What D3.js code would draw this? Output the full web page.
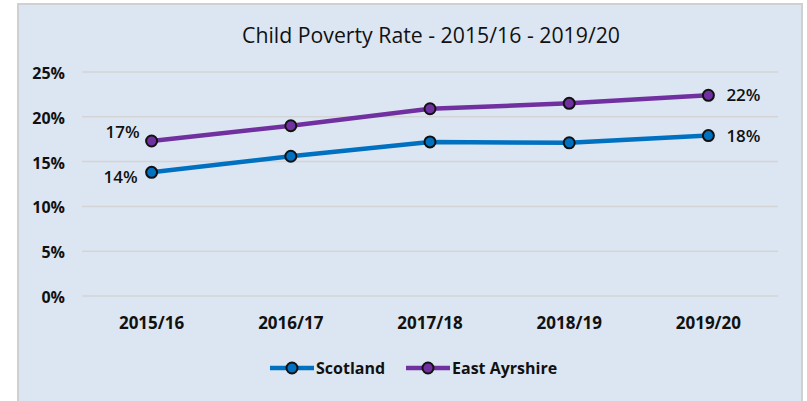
<!DOCTYPE html>
<html>
<head>
<meta charset="utf-8">
<script src="https://cdn.jsdelivr.net/npm/d3@7"></script>
<style>
  body { margin: 0; background: #fff; }
  text { font-family: "Open Sans", "DejaVu Sans", sans-serif; fill: #111; }
</style>
</head>
<body>
<div id="chart"></div>
<script>
// Child poverty data
const years = ["2015/16", "2016/17", "2017/18", "2018/19", "2019/20"];
const scotland = [13.8, 15.6, 17.2, 17.1, 17.9];
const eastAyrshire = [17.3, 19.0, 20.9, 21.5, 22.4];
const yTicks = [0, 5, 10, 15, 20, 25];

const width = 807;
const height = 401;
const margin = { left: 82, right: 29, top: 72, bottom: 105 };

const series = [
  { name: "Scotland", values: scotland, color: "#0070c0", labels: ["14%", null, null, null, "18%"], dx0: -14, dy0: 11 },
  { name: "East Ayrshire", values: eastAyrshire, color: "#7030a0", labels: ["17%", null, null, null, "22%"], dx0: -12, dy0: -3 }
];

const svg = d3.select("#chart").append("svg")
  .attr("width", width)
  .attr("height", height);

// panel background
svg.append("rect")
  .attr("x", 18).attr("y", 4)
  .attr("width", 784).attr("height", 410)
  .attr("fill", "#dce6f2")
  .attr("stroke", "#d0d0d0")
  .attr("stroke-width", 2);

svg.append("text")
  .attr("x", 431).attr("y", 43)
  .attr("text-anchor", "middle")
  .attr("font-size", 21)
  .attr("textLength", 378)
  .attr("lengthAdjust", "spacingAndGlyphs")
  .text("Child Poverty Rate - 2015/16 - 2019/20");

const x = d3.scalePoint()
  .domain(years)
  .range([margin.left, width - margin.right])
  .padding(0.5);

const y = d3.scaleLinear()
  .domain([0, 25])
  .range([height - margin.bottom, margin.top]);

// gridlines
svg.append("g").selectAll("line")
  .data(yTicks)
  .enter().append("line")
  .attr("x1", margin.left)
  .attr("x2", width - margin.right)
  .attr("y1", d => y(d))
  .attr("y2", d => y(d))
  .attr("stroke", "#d4d4d4")
  .attr("stroke-width", 1.5);

// y labels
svg.append("g").selectAll("text")
  .data(yTicks)
  .enter().append("text")
  .attr("x", 65)
  .attr("y", d => y(d) + 7)
  .attr("text-anchor", "end")
  .attr("font-size", 16)
  .attr("font-weight", "bold")
  .text(d => d + "%");

// x labels
svg.append("g").selectAll("text")
  .data(years)
  .enter().append("text")
  .attr("x", d => x(d))
  .attr("y", 329)
  .attr("text-anchor", "middle")
  .attr("font-size", 17)
  .attr("font-weight", "bold")
  .text(d => d);

const line = d3.line()
  .x((d, i) => x(years[i]))
  .y(d => y(d));

series.forEach(s => {
  svg.append("path")
    .datum(s.values)
    .attr("d", line)
    .attr("fill", "none")
    .attr("stroke", s.color)
    .attr("stroke-width", 4.5);

  svg.append("g").selectAll("circle")
    .data(s.values)
    .enter().append("circle")
    .attr("cx", (d, i) => x(years[i]))
    .attr("cy", d => y(d))
    .attr("r", 5.5)
    .attr("fill", s.color)
    .attr("stroke", "#111")
    .attr("stroke-width", 2);

  svg.append("g").selectAll("text")
    .data(s.values.map((v, i) => ({ v, i, label: s.labels[i] })).filter(d => d.label))
    .enter().append("text")
    .attr("x", d => d.i === 0 ? x(years[0]) + s.dx0 : x(years[d.i]) + 18)
    .attr("y", d => d.i === 0 ? y(d.v) + s.dy0 : y(d.v) + 6)
    .attr("text-anchor", d => d.i === 0 ? "end" : "start")
    .attr("font-size", 17)
    .attr("font-weight", 600)
    .text(d => d.label);
});

// legend
const legend = [
  { name: "Scotland", color: "#0070c0", x: 270 },
  { name: "East Ayrshire", color: "#7030a0", x: 406 }
];
const lg = svg.append("g").selectAll("g")
  .data(legend)
  .enter().append("g")
  .attr("transform", d => "translate(" + d.x + ",368)");
lg.append("line")
  .attr("x1", 0).attr("x2", 44)
  .attr("stroke", d => d.color)
  .attr("stroke-width", 4.5);
lg.append("circle")
  .attr("cx", 22).attr("r", 5.5)
  .attr("fill", d => d.color)
  .attr("stroke", "#111")
  .attr("stroke-width", 2);
lg.append("text")
  .attr("x", 46).attr("y", 6)
  .attr("font-size", 16)
  .attr("font-weight", "bold")
  .text(d => d.name);
</script>
</body>
</html>
